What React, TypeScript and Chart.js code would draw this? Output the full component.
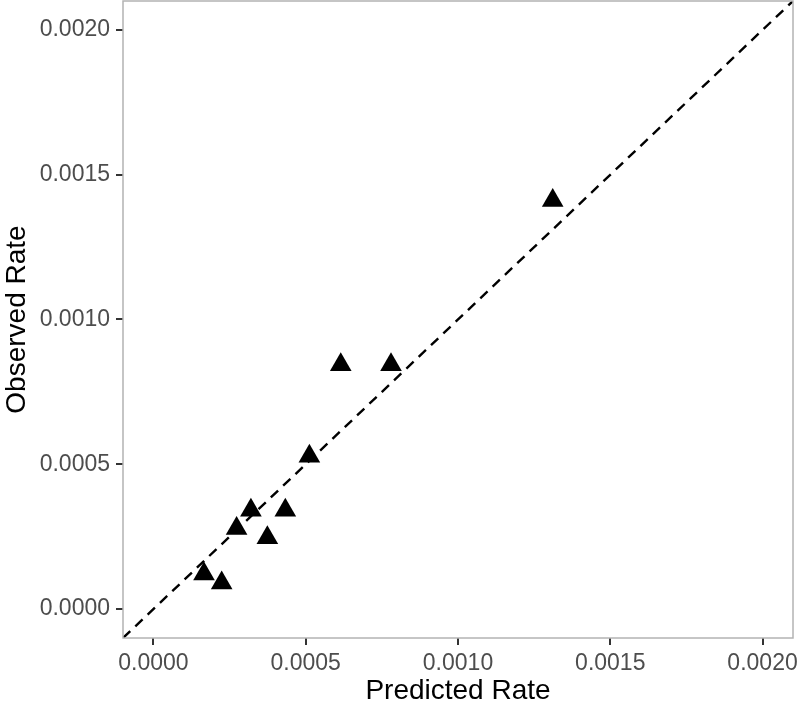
import React, { useEffect, useRef } from "react";
import { Chart, registerables } from "chart.js";

Chart.register(...registerables);

const predictedRate = [0.000512, 0.00032, 0.000433, 0.000273, 0.000374, 0.000166, 0.000224, 0.001311, 0.000615, 0.00078];
const observedRate = [0.000528, 0.000341, 0.000341, 0.000278, 0.000246, 0.000121, 0.00009, 0.001411, 0.000844, 0.000844];
const tickValues = [0, 0.0005, 0.001, 0.0015, 0.002];
const axisMin = -0.0001;
const axisMax = 0.0021;

const FONT = "'Liberation Sans', Arial, Helvetica, sans-serif";

const borderPlugin = {
  id: "panelBorder",
  afterDatasetsDraw(chart: any) {
    const { ctx, chartArea } = chart;
    ctx.save();
    ctx.strokeStyle = "#b3b3b3";
    ctx.lineWidth = 1.5;
    ctx.strokeRect(chartArea.left, chartArea.top, chartArea.right - chartArea.left, chartArea.bottom - chartArea.top);
    ctx.restore();
  },
};

const zeroPadding = () => ({ left: 0, top: 0, right: 0, bottom: 0 });

export default function App() {
  const ref = useRef<HTMLCanvasElement>(null);
  useEffect(() => {
    const points = predictedRate.map((x, i) => ({ x, y: observedRate[i] }));
    const chart = new Chart(ref.current!, {
      type: "scatter",
      data: {
        datasets: [
          {
            data: [
              { x: axisMin, y: axisMin },
              { x: axisMax, y: axisMax },
            ],
            showLine: true,
            borderColor: "#000",
            borderWidth: 2.4,
            borderDash: [10, 7],
            pointRadius: 0,
            order: 2,
          },
          {
            data: points,
            pointStyle: "triangle",
            pointRadius: 12.5,
            backgroundColor: "#000",
            borderColor: "#000",
            borderWidth: 0,
            order: 1,
          },
        ],
      },
      options: {
        responsive: false,
        animation: false,
        layout: { autoPadding: false, padding: { top: 1, right: 7, left: 0, bottom: 0 } },
        plugins: { legend: { display: false }, tooltip: { enabled: false } },
        scales: {
          x: {
            type: "linear",
            min: axisMin,
            max: axisMax,
            afterBuildTicks: (s: any) => {
              s.ticks = tickValues.map((v) => ({ value: v }));
            },
            afterFit: (s: any) => {
              s.height = 67;
              s.paddingLeft = 0;
              s.paddingRight = 0;
              s.getPadding = zeroPadding;
            },
            ticks: {
              callback: (v: any) => Number(v).toFixed(4),
              color: "#4d4d4d",
              font: { family: FONT, size: 23 },
              padding: 5,
              maxRotation: 0,
              autoSkip: false,
            },
            grid: { drawOnChartArea: false, drawTicks: true, tickLength: 7, color: "#333", lineWidth: 2 },
            border: { display: false },
            title: {
              display: true,
              text: "Predicted Rate",
              color: "#000",
              font: { family: FONT, size: 28, lineHeight: 1 },
              padding: { top: 0, bottom: 0 },
            },
          },
          y: {
            type: "linear",
            min: axisMin,
            max: axisMax,
            afterBuildTicks: (s: any) => {
              s.ticks = tickValues.map((v) => ({ value: v }));
            },
            afterFit: (s: any) => {
              s.width = 123;
              s.paddingTop = 0;
              s.paddingBottom = 0;
              s.getPadding = zeroPadding;
            },
            ticks: {
              callback: (v: any) => Number(v).toFixed(4),
              color: "#4d4d4d",
              font: { family: FONT, size: 23 },
              padding: 6,
              autoSkip: false,
            },
            grid: { drawOnChartArea: false, drawTicks: true, tickLength: 7, color: "#333", lineWidth: 2 },
            border: { display: false },
            title: {
              display: true,
              text: "Observed Rate",
              color: "#000",
              font: { family: FONT, size: 28 },
              padding: { top: 0, bottom: 0 },
            },
          },
        },
      },
      plugins: [borderPlugin],
    });
    return () => chart.destroy();
  }, []);
  return (
    <div style={{ position: "absolute", left: 0, top: 0, width: 800, height: 705, background: "#fff" }}>
      <canvas ref={ref} width={800} height={705} style={{ display: "block" }} />
    </div>
  );
}
